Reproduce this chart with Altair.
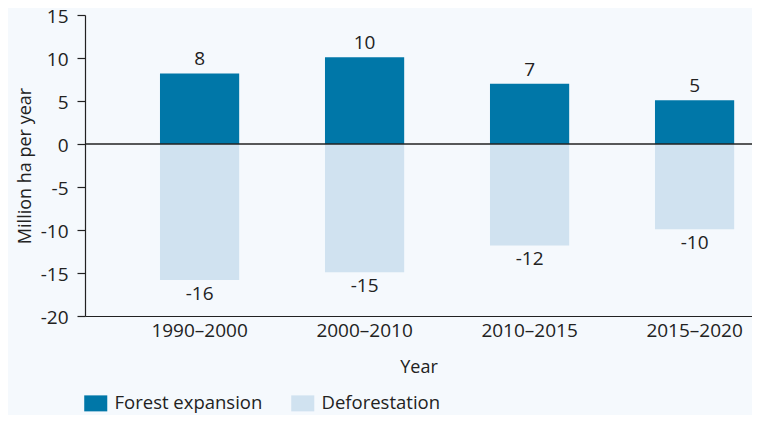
import altair as alt
import pandas as pd

periods = ["1990–2000", "2000–2010", "2010–2015", "2015–2020"]
expansion = [8.2, 10.1, 7.0, 5.1]
deforestation = [-15.8, -14.9, -11.8, -9.9]
series = ["Forest expansion", "Deforestation"]
colors = ["#0077A8", "#D0E2F0"]
y_ticks = [-20, -15, -10, -5, 0, 5, 10, 15]

rows = []
for p, e, d in zip(periods, expansion, deforestation):
    rows.append({"period": p, "series": series[0], "value": e, "label": str(round(e))})
    rows.append({"period": p, "series": series[1], "value": d, "label": str(round(d))})
df = pd.DataFrame(rows)

FONT = "Open Sans"
TXT = "#222222"
FS = 19
FT = 18

x = alt.X(
    "period:N", sort=periods, title="Year",
    scale=alt.Scale(paddingInner=0.52, paddingOuter=0.2812, align=0.808),
    axis=alt.Axis(labelAngle=0, ticks=False, labelPadding=5, titlePadding=18,
                  domainColor=TXT, domainWidth=1.2),
)
y = alt.Y(
    "value:Q", title="Million ha per year",
    scale=alt.Scale(domain=[-20, 15], nice=False, zero=False),
    axis=alt.Axis(values=y_ticks, labelExpr="'' + datum.value", grid=False,
                  tickSize=8, labelPadding=9, titlePadding=6, labelOffset=1,
                  domainColor=TXT, tickColor=TXT, domainWidth=1.2, tickWidth=1.2),
)

base = alt.Chart(df)

bars = base.mark_bar().encode(
    x=x, y=y,
    color=alt.Color(
        "series:N",
        scale=alt.Scale(domain=series, range=colors),
        legend=alt.Legend(
            orient="none", legendX=1.5, legendY=379, direction="horizontal",
            title=None, symbolType="M-1.44,-1L1.44,-1L1.44,1L-1.44,1Z",
            symbolSize=256, symbolStrokeWidth=0, labelOffset=9.5,
            columnPadding=28, labelFontSize=18.5, labelColor=TXT, labelFont=FONT,
        ),
    ),
)

pos_text = base.transform_filter("datum.value > 0").mark_text(
    baseline="bottom", dy=-4, fontSize=FS, font=FONT, color=TXT
).encode(x=alt.X("period:N", sort=periods), y="value:Q", text="label:N")

neg_text = base.transform_filter("datum.value < 0").mark_text(
    baseline="top", dy=5, fontSize=FS, font=FONT, color=TXT
).encode(x=alt.X("period:N", sort=periods), y="value:Q", text="label:N")

zero = alt.Chart(pd.DataFrame({"z": [0]})).mark_rule(color=TXT, strokeWidth=1.3).encode(y="z:Q")

chart = alt.layer(bars, zero, pos_text, neg_text).properties(
    width=667, height=301,
    padding={"left": 77, "top": 7, "right": 0, "bottom": 99},
    autosize="none",
    background="#F5F9FD",
).configure_view(stroke=None).configure_axis(
    labelFont=FONT, titleFont=FONT, labelFontSize=FS, titleFontSize=FT,
    labelColor=TXT, titleColor=TXT, titleFontWeight="normal",
)

chart.save("out.html", embed_options={"renderer": "svg", "actions": False})
